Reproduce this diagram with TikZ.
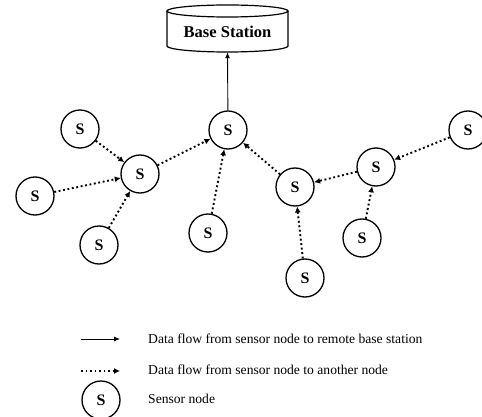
\documentclass[tikz,border=0pt]{standalone}
\usepackage{fontspec}
\setmainfont{Liberation Serif}
\usetikzlibrary{arrows.meta}
\begin{document}
\begin{tikzpicture}[x=1pt,y=1pt,
  sensor/.style={circle,draw,line width=1.3pt,minimum size=38pt,inner sep=0pt,font=\fontsize{16}{16}\selectfont\bfseries},
  dotflow/.style={line width=1.9pt,dash pattern=on 1.9pt off 2.6pt,-{Latex[length=6pt,width=6pt]}},
  solidflow/.style={line width=0.9pt,-{Latex[length=6pt,width=5pt]}},
  legtext/.style={anchor=west,inner sep=0pt,font=\fontsize{13.6}{15}\selectfont}]
\useasboundingbox (0,0) rectangle (482,-417);
% base station cylinder
\draw[line width=1.2pt] (167,-11) -- (167,-46) arc (180:360:60.5 and 6) -- (288,-11);
\draw[line width=1.2pt] (227.5,-11) ellipse (60.5 and 6);
\node (bs) at (227.5,-31.5) [minimum width=121pt,minimum height=41pt,inner sep=0pt,font=\fontsize{16.5}{17}\selectfont\bfseries] {Base Station};
% sensors
\node[sensor] (s1) at (80,-129) {S};
\node[sensor] (sml) at (140,-174) {S};
\node[sensor] (sl) at (35,-196) {S};
\node[sensor] (sbl) at (99,-245) {S};
\node[sensor] (stc) at (228,-130) {S};
\node[sensor] (sbc) at (208,-233) {S};
\node[sensor] (smr) at (295,-187) {S};
\node[sensor] (srm) at (376,-167) {S};
\node[sensor] (sfr) at (468,-130) {S};
\node[sensor] (sbr) at (362,-238) {S};
\node[sensor] (sb) at (305,-278) {S};
% connectors
\draw[dotflow] (s1) -- (sml);
\draw[dotflow] (sl) -- (sml);
\draw[dotflow] (sbl) -- (sml);
\draw[dotflow] (sml) -- (stc);
\draw[dotflow] (sbc) -- (stc);
\draw[dotflow] (smr) -- (stc);
\draw[dotflow] (srm) -- (smr);
\draw[dotflow] (sfr) -- (srm);
\draw[dotflow] (sbr) -- (srm);
\draw[dotflow] (sb) -- (smr);
\draw[solidflow] (stc) -- (bs.south);
% legend
\coordinate (l1a) at (81,-339);
\coordinate (l1b) at (120,-339);
\coordinate (l2a) at (81,-371);
\coordinate (l2b) at (120,-371);
\draw[solidflow] (l1a) -- (l1b);
\draw[dotflow] (l2a) -- (l2b);
\node[sensor] (ls) at (101,-400) {S};
\node[legtext] (t1) at (148,-339) {Data flow from sensor node to remote base station};
\node[legtext] (t2) at (148,-370) {Data flow from sensor node to another node};
\node[legtext] (t3) at (148,-399) {Sensor node};
\end{tikzpicture}
\end{document}
